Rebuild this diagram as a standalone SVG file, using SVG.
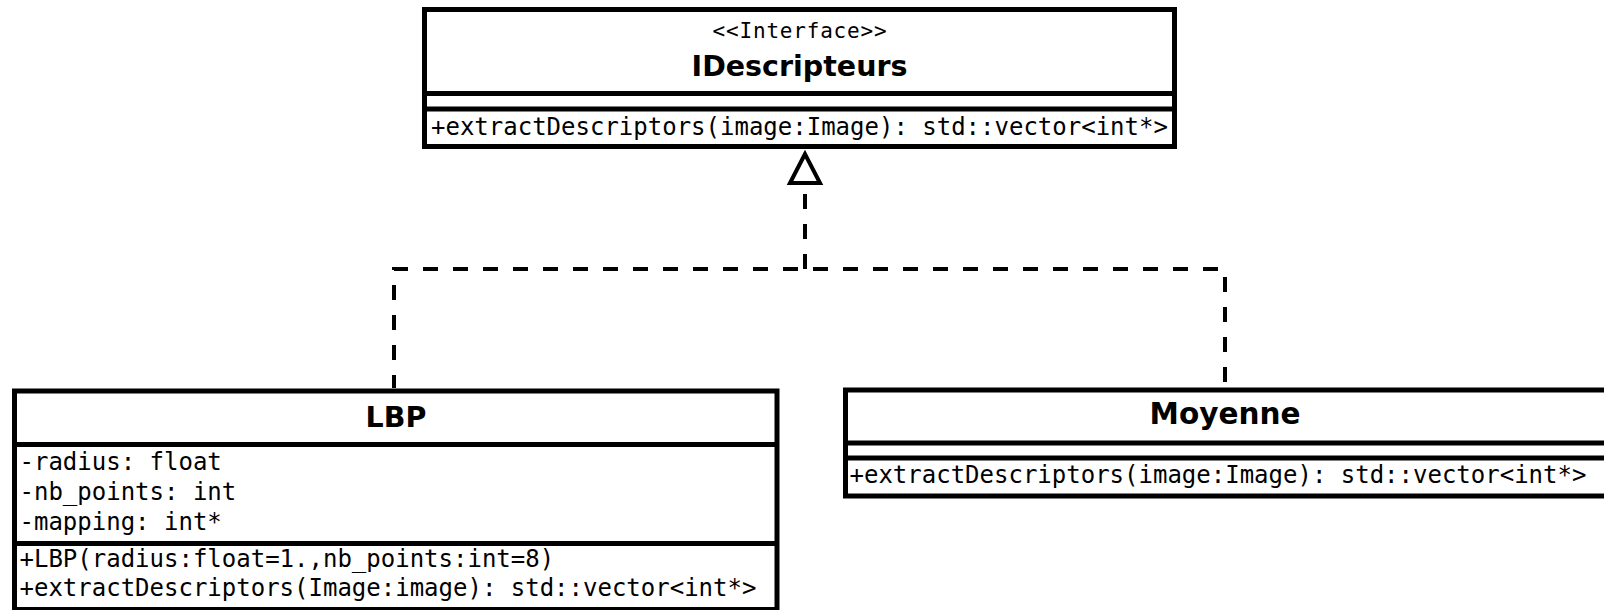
<svg xmlns="http://www.w3.org/2000/svg" width="1604" height="610" viewBox="0 0 1604 610">
  <style>
    .box { fill: #fff; stroke: #000; stroke-width: 5; }
    .sep { stroke: #000; stroke-width: 5; }
    .name { font-family: "DejaVu Sans", "Liberation Sans", sans-serif; font-weight: bold; font-size: 28.5px; text-anchor: middle; fill: #000; }
    .mem { font-family: "DejaVu Sans Mono", "Liberation Mono", monospace; font-size: 24px; fill: #000; }
    .stereo { font-family: "DejaVu Sans Mono", "Liberation Mono", monospace; font-size: 21px; letter-spacing: 0.8px; text-anchor: middle; fill: #000; }
    .dash { fill: none; stroke: #000; stroke-width: 4; stroke-dasharray: 15 15; }
    .head { fill: #fff; stroke: #000; stroke-width: 4; stroke-linejoin: miter; }
  </style>
  <rect width="1604" height="610" fill="#fff"/>

  <!-- realization connectors -->
  <g id="connectors">
    <path class="dash" stroke-dashoffset="2" d="M394,388 V269 H1225 V388"/>
    <path class="dash" d="M805,269 V184"/>
    <polygon class="head" points="805,154 790,183 820,183"/>
  </g>

  <!-- interface -->
  <g id="IDescripteurs">
    <rect class="box" x="424.5" y="9.5" width="750" height="137"/>
    <line class="sep" x1="424.5" y1="93.5" x2="1174.5" y2="93.5"/>
    <line class="sep" x1="424.5" y1="109" x2="1174.5" y2="109"/>
    <text class="stereo" x="800" y="38">&lt;&lt;Interface&gt;&gt;</text>
    <text class="name" x="799.5" y="76">IDescripteurs</text>
    <text class="mem" x="431" y="135">+extractDescriptors(image:Image): std::vector&lt;int*&gt;</text>
  </g>

  <!-- LBP class -->
  <g id="LBP">
    <rect class="box" x="14.5" y="391" width="762.5" height="218.5"/>
    <line class="sep" x1="14.5" y1="444.5" x2="777" y2="444.5"/>
    <line class="sep" x1="14.5" y1="543.5" x2="777" y2="543.5"/>
    <text class="name" x="396" y="427">LBP</text>
    <text class="mem" x="19.5" y="470">-radius: float</text>
    <text class="mem" x="19.5" y="500">-nb_points: int</text>
    <text class="mem" x="19.5" y="530">-mapping: int*</text>
    <text class="mem" x="19.5" y="567">+LBP(radius:float=1.,nb_points:int=8)</text>
    <text class="mem" x="19.5" y="596">+extractDescriptors(Image:image): std::vector&lt;int*&gt;</text>
  </g>

  <!-- Moyenne class -->
  <g id="Moyenne">
    <rect class="box" x="845.5" y="390" width="762.5" height="106"/>
    <line class="sep" x1="845.5" y1="443" x2="1608" y2="443"/>
    <line class="sep" x1="845.5" y1="458" x2="1608" y2="458"/>
    <text class="name" x="1225" y="424" style="font-size:29.5px">Moyenne</text>
    <text class="mem" x="849.5" y="483">+extractDescriptors(image:Image): std::vector&lt;int*&gt;</text>
  </g>
</svg>
